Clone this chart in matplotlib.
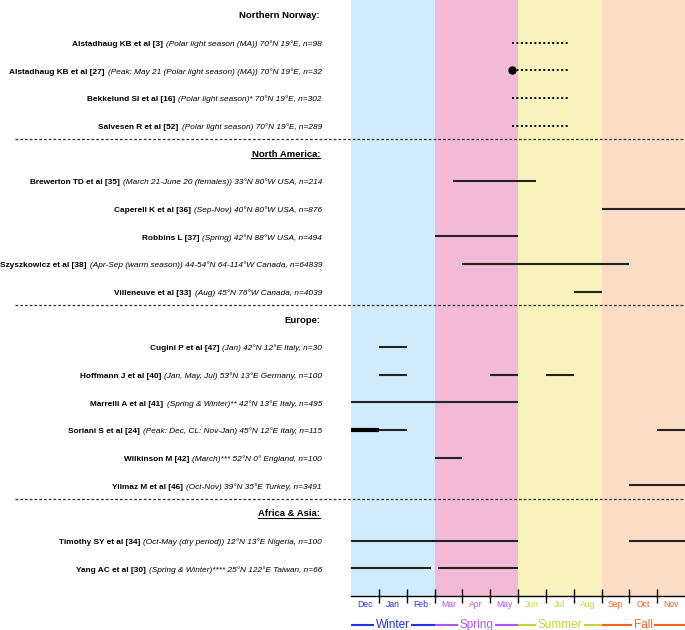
import matplotlib
matplotlib.use("Agg")
import matplotlib.pyplot as plt
from matplotlib.lines import Line2D
from matplotlib import transforms

plt.rcParams['font.family'] = ['Liberation Sans', 'DejaVu Sans']

# regions, in the order shown, and how many studies each has
groups = ["Northern Norway:", "North America:", "Europe:", "Africa & Asia:"]
group_sizes = [4, 5, 6, 2]
group_underline = [False, True, False, True]

authors = [
    "Alstadhaug KB et al [3]", "Alstadhaug KB et al [27]", "Bekkelund SI et al [16]",
    "Salvesen R et al [52]",
    "Brewerton TD et al [35]", "Caperell K et al [36]", "Robbins L [37]",
    "Szyszkowicz et al [38]", "Villeneuve et al [33]",
    "Cugini P et al [47]", "Hoffmann J et al [40]", "Marrelli A et al [41]",
    "Soriani S et al [24]", "Wilkinson M [42]", "Yilmaz M et al [46]",
    "Timothy SY et al [34]", "Yang AC et al [30]",
]
details = [
    "(Polar light season (MA)) 70°N 19°E, n=98",
    "(Peak: May 21 (Polar light season) (MA)) 70°N 19°E, n=32",
    "(Polar light season)* 70°N 19°E, n=302",
    "(Polar light season) 70°N 19°E, n=289",
    "(March 21-June 20 (females)) 33°N 80°W USA, n=214",
    "(Sep-Nov) 40°N 80°W USA, n=876",
    "(Spring) 42°N 88°W USA, n=494",
    "(Apr-Sep (warm season)) 44-54°N 64-114°W Canada, n=64839",
    "(Aug) 45°N 76°W Canada, n=4039",
    "(Jan) 42°N 12°E Italy, n=30",
    "(Jan, May, Jul) 53°N 13°E Germany, n=100",
    "(Spring & Winter)** 42°N 13°E Italy, n=495",
    "(Peak: Dec, CL: Nov-Jan) 45°N 12°E Italy, n=115",
    "(March)*** 52°N 0° England, n=100",
    "(Oct-Nov) 39°N 35°E Turkey, n=3491",
    "(Oct-May (dry period)) 12°N 13°E Nigeria, n=100",
    "(Spring & Winter)**** 25°N 122°E Taiwan, n=66",
]
# periods in months counted from the start of December
periods = [
    [(5.8, 7.8)], [(5.8, 7.8)], [(5.8, 7.8)], [(5.8, 7.8)],
    [(3.65, 6.65)], [(9, 12)], [(3, 6)], [(4, 10)], [(8, 9)],
    [(1, 2)], [(1, 2), (5, 6), (7, 8)], [(0, 6)], [(0, 2), (11, 12)], [(3, 4)], [(10, 12)],
    [(0, 6), (10, 12)], [(0, 2.87), (3.14, 6)],
]
dotted = [True, True, True, True] + [False] * 13
peak_points = {1: 5.8}
peak_spans = {12: (0, 1)}

months = ["Dec", "Jan", "Feb", "Mar", "Apr", "May", "Jun", "Jul", "Aug", "Sep", "Oct", "Nov"]
seasons = ["Winter", "Spring", "Summer", "Fall"]
season_bg = ["#d0ebfc", "#f2bad5", "#f8f2bc", "#fbdcc6"]
season_fg = ["#1f33ee", "#b455f2", "#c4d43a", "#ff6222"]

fig = plt.figure(figsize=(6.85, 6.3), dpi=100)
ax = fig.add_axes([351 / 685, 34 / 630, 334 / 685, 596 / 630])
ax.set_xlim(0, 12)
ax.set_ylim(21, -0.54)

for i, c in enumerate(season_bg):
    ax.axvspan(3 * i, 3 * i + 3, color=c, lw=0, zorder=0)

# row layout
label_tr = transforms.blended_transform_factory(fig.transFigure, ax.transData)
lx = 322 / 685
headers = []
row_y = []
y = 0
for g, n, ul in zip(groups, group_sizes, group_underline):
    if y > 0:
        fig.add_artist(Line2D([15 / 685, 1], [y - 0.5, y - 0.5], transform=label_tr,
                              color="#333333", lw=0.9, ls=(0, (2.2, 1.6))))
    t = fig.text(lx - 2 / 685, y + 0.12, g, transform=label_tr, ha="right", va="baseline",
                 fontsize=6.8, fontweight="bold")
    headers.append((t, ul, y))
    y += 1
    for k in range(n):
        row_y.append(y)
        y += 1

for i, (a, d) in enumerate(zip(authors, details)):
    yy = row_y[i]
    it = fig.text(lx, yy + 0.12, d, transform=label_tr, ha="right", va="baseline",
                  fontsize=5.95, fontstyle="italic")
    fig.add_artist(plt.Annotation(a, xy=(0, yy + 0.12), xycoords=(it, ax.transData),
                                  xytext=(-2.2, 0), textcoords="offset points",
                                  ha="right", va="baseline", fontsize=5.95,
                                  fontweight="bold", annotation_clip=False))
    for s, e in periods[i]:
        if dotted[i]:
            ax.plot([s, e], [yy, yy], color="black", lw=1.4, ls=(0, (1, 1.3)), zorder=3)
        else:
            ax.plot([s, e], [yy, yy], color="#222222", lw=1.5, solid_capstyle="butt", zorder=3)
    if i in peak_points:
        ax.plot(peak_points[i], yy, "o", color="black", ms=5, zorder=4)
    if i in peak_spans:
        s, e = peak_spans[i]
        ax.plot([s, e], [yy, yy], color="black", lw=3, solid_capstyle="butt", zorder=4)

# month axis
ax.set_xticks([m + 0.5 for m in range(12)])
ax.set_xticklabels(months, fontsize=6.2)
for j, lab in enumerate(ax.get_xticklabels()):
    lab.set_color(season_fg[j // 3])
ax.tick_params(axis="x", which="major", length=0, pad=3)
ax.set_xticks(range(1, 12), minor=True)
ax.tick_params(axis="x", which="minor", direction="inout", length=10, width=1, color="black")
ax.set_yticks([])
for sp in ["left", "right", "top"]:
    ax.spines[sp].set_visible(False)
ax.spines["bottom"].set_linewidth(1)

# season legend under the months
season_tr = transforms.blended_transform_factory(ax.transData, fig.transFigure)
sy = 5 / 630
for i, (name, c) in enumerate(zip(seasons, season_fg)):
    ax.plot([3 * i, 3 * i + 3], [sy, sy], transform=season_tr, color=c, lw=1.5,
            clip_on=False, solid_capstyle="butt")
    ax.text(3 * i + 1.5, sy, name, transform=season_tr, ha="center", va="center",
            fontsize=8.5, color=c, clip_on=False,
            bbox=dict(facecolor="white", edgecolor="none", pad=1.2))

# underline some headers
fig.canvas.draw()
inv = fig.transFigure.inverted()
for t, ul, yy in headers:
    if not ul:
        continue
    bb = t.get_window_extent()
    base = ax.transData.transform((0, yy + 0.12))[1] - 1.5
    (x0, y0), (x1, _) = inv.transform([(bb.x0, base), (bb.x1, base)])
    fig.add_artist(Line2D([x0, x1], [y0, y0], color="black", lw=0.8))

fig.savefig("out.png", dpi=100)
